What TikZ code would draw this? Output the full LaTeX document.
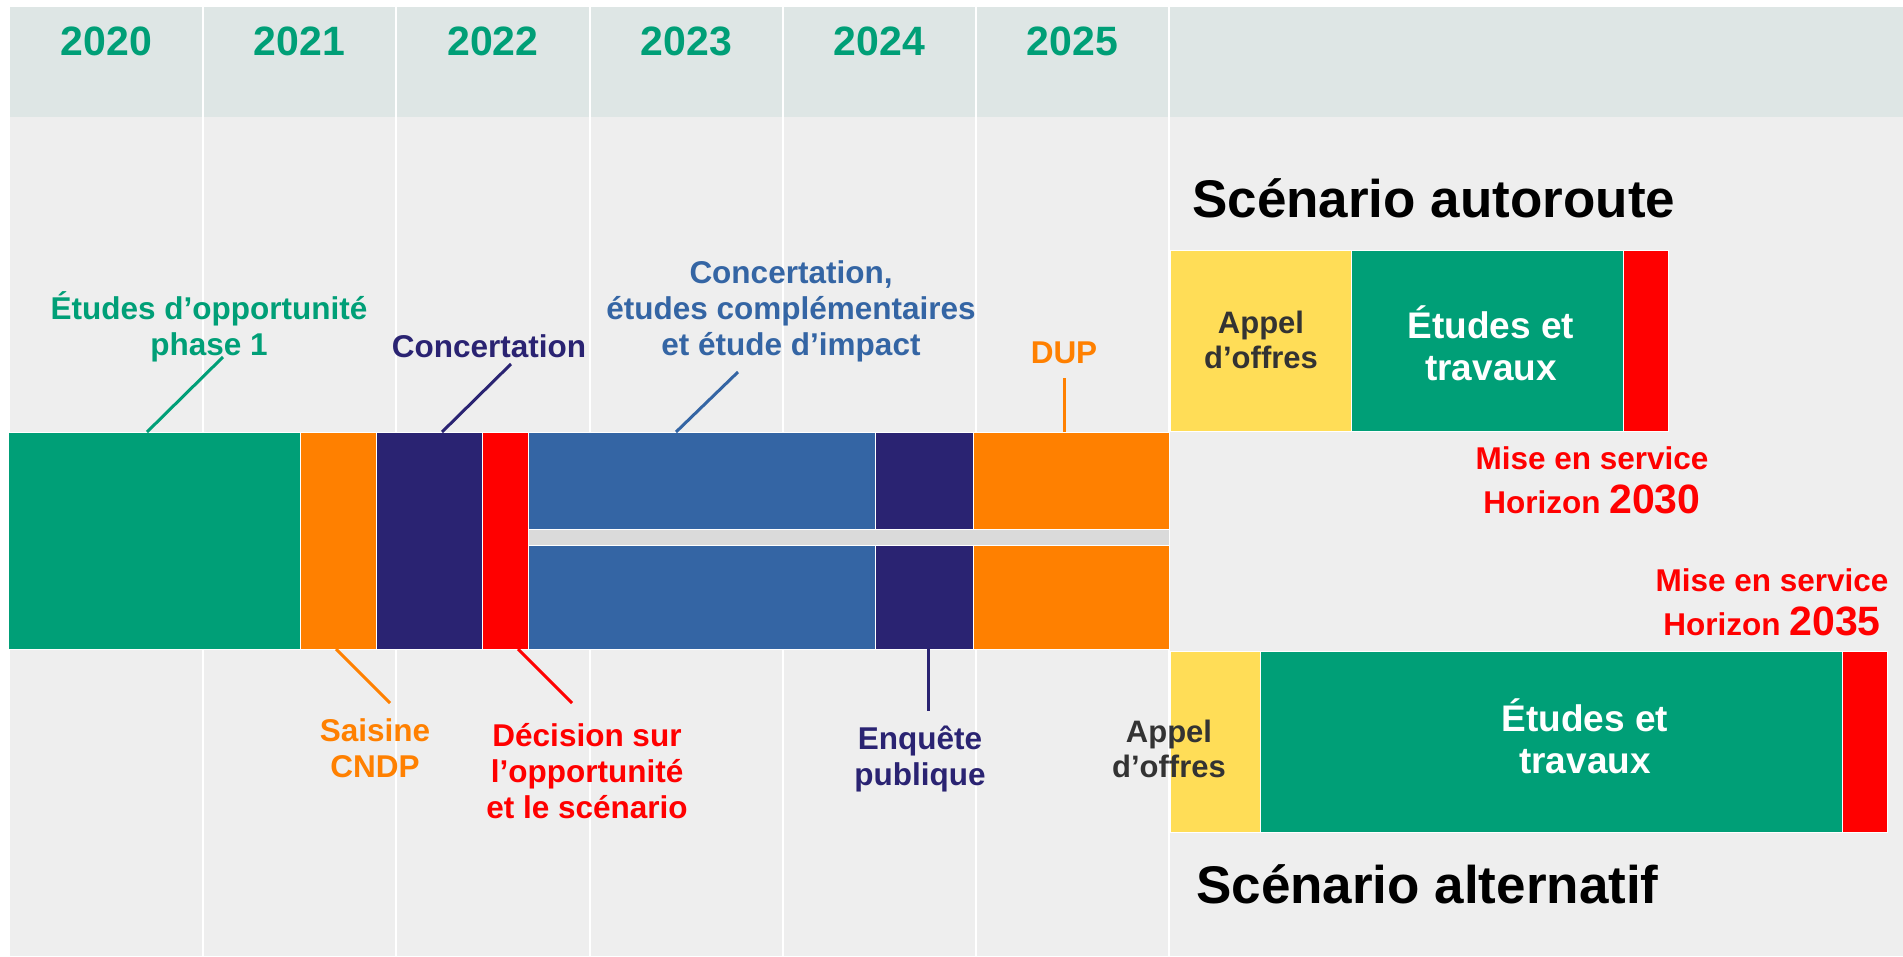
\documentclass[tikz,border=0pt]{standalone}
\usepackage{fontspec}
\setmainfont{Liberation Sans}
\definecolor{hdr}{HTML}{DEE6E5}
\definecolor{bodybg}{HTML}{EEEEEE}
\definecolor{cgreen}{HTML}{009F77}
\definecolor{corange}{HTML}{FF8000}
\definecolor{cnavy}{HTML}{2A2372}
\definecolor{cred}{HTML}{FF0000}
\definecolor{cblue}{HTML}{3465A4}
\definecolor{cyellow}{HTML}{FFDD57}
\definecolor{cgap}{HTML}{DADADA}
\definecolor{cdark}{HTML}{333333}
\begin{document}
\begin{tikzpicture}[x=1pt,y=-1pt,
  seg/.style={fill=#1, draw=white, line width=0.8pt},
  lead/.style={draw=#1, line width=3pt},
  year/.style={anchor=base, text=cgreen, font=\bfseries\fontsize{41}{41}\selectfont, inner sep=0pt},
  lbl/.style={anchor=base, align=center, text=#1, font=\bfseries\fontsize{31.5}{36}\selectfont, inner sep=0pt},
  blk/.style={anchor=base, align=center, text=#1, font=\bfseries\fontsize{31}{35}\selectfont, inner sep=0pt},
  blkw/.style={anchor=base, align=center, text=white, font=\bfseries\fontsize{37}{42}\selectfont, inner sep=0pt},
  mise/.style={anchor=base, align=center, text=cred, font=\bfseries\fontsize{31.5}{44}\selectfont, inner sep=0pt},
  scen/.style={anchor=base west, text=black, font=\bfseries\fontsize{53}{53}\selectfont, inner sep=0pt}]
\useasboundingbox (0,0) rectangle (1903,956);
\fill[white] (0,0) rectangle (1903,956);
% backgrounds
\fill[hdr] (10,7) rectangle (1903,117);
\fill[bodybg] (10,117) rectangle (1903,956);
\foreach \x in {203,396,590,783,976,1169} \draw[white, line width=1.2pt] (\x,7) -- (\x,956);
% years
\node[year] (y2020) at (106.5,55) {2020};
\node[year] (y2021) at (299.5,55) {2021};
\node[year] (y2022) at (493,55) {2022};
\node[year] (y2023) at (686.5,55) {2023};
\node[year] (y2024) at (879.5,55) {2024};
\node[year] (y2025) at (1072.5,55) {2025};
% main bar
\fill[cgap] (528,529) rectangle (1169,545);
\path[seg=cgreen] (8,432) rectangle (300,649);
\path[seg=corange] (300,432) rectangle (376,649);
\path[seg=cnavy] (376,432) rectangle (482,649);
\path[seg=cred] (482,432) rectangle (528,649);
\path[seg=cblue] (528,432) rectangle (875,529);
\path[seg=cblue] (528,545) rectangle (875,649);
\path[seg=cnavy] (875,432) rectangle (973,529);
\path[seg=cnavy] (875,545) rectangle (973,649);
\path[seg=corange] (973,432) rectangle (1169,529);
\path[seg=corange] (973,545) rectangle (1169,649);
% scenario autoroute
\path[seg=cyellow] (1170,250) rectangle (1351,431);
\path[seg=cgreen] (1351,250) rectangle (1623,431);
\path[seg=cred] (1623,250) rectangle (1668,431);
% scenario alternatif
\path[seg=cyellow] (1170,651) rectangle (1260,832);
\path[seg=cgreen] (1260,651) rectangle (1842,832);
\path[seg=cred] (1842,651) rectangle (1887,832);
% labels (anchor = baseline of last line)
\node[lbl=cgreen] (lopp) at (209,355) {Études d’opportunité\\phase 1};
\node[lbl=cnavy] (lconc) at (489,357) {Concertation};
\node[lbl=cblue] (lconc2) at (791,355) {Concertation,\\études complémentaires\\et étude d’impact};
\node[lbl=corange] (ldup) at (1064,363) {DUP};
\node[lbl=corange] (lsais) at (375,777) {Saisine\\CNDP};
\node[lbl=cred] (ldec) at (587,818) {Décision sur\\l’opportunité\\et le scénario};
\node[lbl=cnavy] (lenq) at (920,785) {Enquête\\publique};
% leaders
\coordinate (a1) at (147,432); \coordinate (a2) at (223,357);
\coordinate (b1) at (442,432); \coordinate (b2) at (511,364);
\coordinate (c1) at (676,432); \coordinate (c2) at (738,372);
\coordinate (d1) at (1064,432); \coordinate (d2) at (1064,378);
\coordinate (e1) at (336,649); \coordinate (e2) at (390,703);
\coordinate (f1) at (518,649); \coordinate (f2) at (572,703);
\coordinate (g1) at (928,649); \coordinate (g2) at (928,711);
\draw[lead=cgreen] (a1) -- (a2);
\draw[lead=cnavy] (b1) -- (b2);
\draw[lead=cblue] (c1) -- (c2);
\draw[lead=corange] (d1) -- (d2);
\draw[lead=corange] (e1) -- (e2);
\draw[lead=cred] (f1) -- (f2);
\draw[lead=cnavy] (g1) -- (g2);
% scenario texts
\node[scen] (sauto) at (1192,217) {Scénario autoroute};
\node[blk=cdark] (appel1) at (1261,368) {Appel\\d’offres};
\node[blkw] (trav1) at (1491,380) {Études et\\travaux};
\node[mise] (mise1) at (1592,513) {Mise en service\\Horizon {\fontsize{41}{41}\selectfont 2030}};
\node[mise] (mise2) at (1772,635) {Mise en service\\Horizon {\fontsize{41}{41}\selectfont 2035}};
\node[blk=cdark] (appel2) at (1169,777) {Appel\\d’offres};
\node[blkw] (trav2) at (1585,773) {Études et\\travaux};
\node[scen] (salt) at (1196,903) {Scénario alternatif};
\end{tikzpicture}
\end{document}
